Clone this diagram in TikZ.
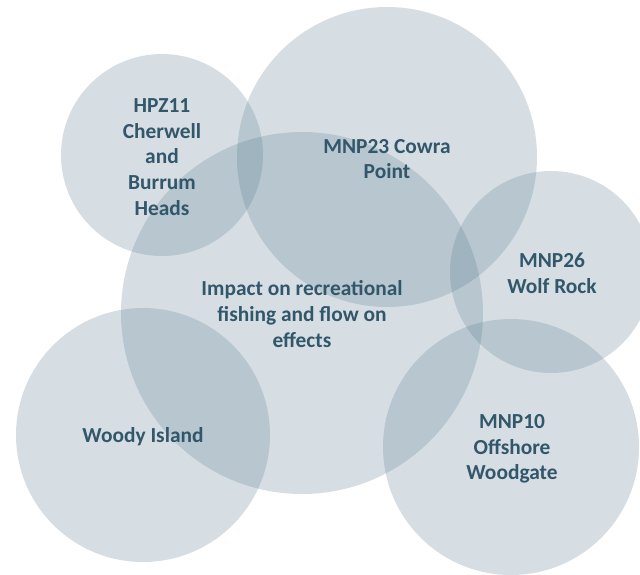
\documentclass[tikz,border=0pt]{standalone}
\usepackage{fontspec}
\setmainfont{Carlito}
\definecolor{bub}{RGB}{90,125,145}
\definecolor{txt}{RGB}{50,86,106}
\begin{document}
\begin{tikzpicture}[x=1pt,y=-1pt,
  bubble/.style={circle, fill=bub, fill opacity=0.25, draw=none, inner sep=0pt, outer sep=0pt},
  lab/.style={text=txt, font=\bfseries\fontsize{21.4}{25.6}\selectfont, align=center, inner sep=0pt}]
\useasboundingbox (0,0) rectangle (640,574);
\clip (0,0) rectangle (640,574);
\node[bubble, minimum size=362pt] (center) at (302,313) {};
\node[bubble, minimum size=202pt] (hpz) at (162,155) {};
\node[bubble, minimum size=300pt] (mnp23) at (387,157) {};
\node[bubble, minimum size=202pt] (mnp26) at (551,272) {};
\node[bubble, minimum size=256pt] (mnp10) at (511,447) {};
\node[bubble, minimum size=254pt] (woody) at (143,435) {};
\node[lab] (tcenter) at (302,314) {Impact on recreational\\fishing and flow on\\effects};
\node[lab] (thpz) at (162,157) {HPZ11\\Cherwell\\and\\Burrum\\Heads};
\node[lab] (tmnp23) at (387,159) {MNP23 Cowra\\Point};
\node[lab] (tmnp26) at (552,273) {MNP26\\Wolf Rock};
\node[lab] (tmnp10) at (512,449) {MNP10\\Offshore\\Woodgate};
\node[lab] (twoody) at (143,437) {Woody Island};
\end{tikzpicture}
\end{document}
